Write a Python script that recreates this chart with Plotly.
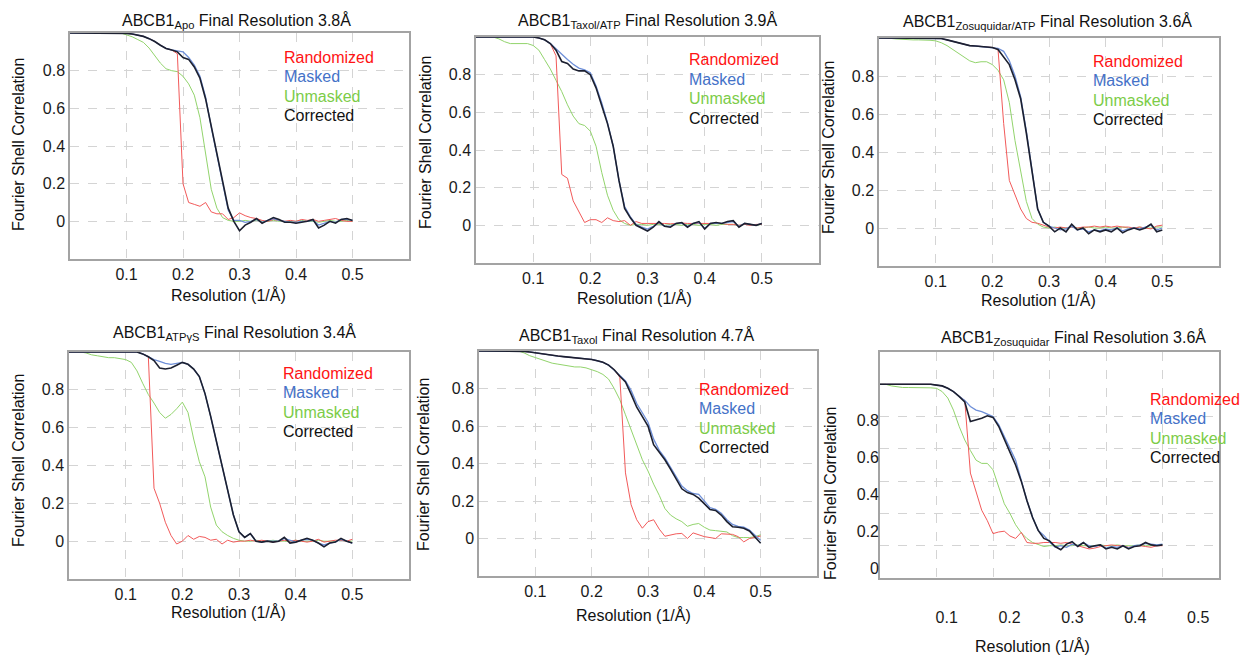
import plotly.graph_objects as go

# ---------------- data ----------------
resolution = [0.00, 0.01, 0.02, 0.03, 0.04, 0.05, 0.06, 0.07, 0.08, 0.09,
              0.10, 0.11, 0.12, 0.13, 0.14, 0.15, 0.16, 0.17, 0.18, 0.19,
              0.20, 0.21, 0.22, 0.23, 0.24, 0.25, 0.26, 0.27, 0.28, 0.29,
              0.30, 0.31, 0.32, 0.33, 0.34, 0.35, 0.36, 0.37, 0.38, 0.39,
              0.40, 0.41, 0.42, 0.43, 0.44, 0.45, 0.46, 0.47, 0.48, 0.49,
              0.50]

series_names = ["Randomized", "Masked", "Unmasked", "Corrected"]

panel_titles = [
    "ABCB1<sub>Apo</sub> Final Resolution 3.8Å",
    "ABCB1<sub>Taxol/ATP</sub> Final Resolution 3.9Å",
    "ABCB1<sub>Zosuquidar/ATP</sub> Final Resolution 3.6Å",
    "ABCB1<sub>ATPγS</sub> Final Resolution 3.4Å",
    "ABCB1<sub>Taxol</sub> Final Resolution 4.7Å",
    "ABCB1<sub>Zosuquidar</sub> Final Resolution 3.6Å",
]

x_tick_values = [0.1, 0.2, 0.3, 0.4, 0.5]
x_tick_labels = ["0.1", "0.2", "0.3", "0.4", "0.5"]
y_tick_values = [0, 0.2, 0.4, 0.6, 0.8]
y_tick_labels = ["0", "0.2", "0.4", "0.6", "0.8"]

# Panel 1: Apo
apo_randomized = [1, 1, 1, 1, 1, 1, 1, 1, 1, 1,
                  0.998, 0.995, 0.99, 0.982, 0.97, 0.955, 0.935, 0.918, 0.91, 0.89,
                  0.2, 0.1, 0.09, 0.08, 0.1, 0.05, 0.04, 0.04, 0.01, 0.02,
                  0.045, 0.03, 0.02, 0.015, 0.005, 0.0, 0.01, 0.005, 0.0, 0.005,
                  0.0, 0.01, 0.005, 0.01, 0.0, 0.005, 0.01, 0.015, 0.005, 0.0,
                  0.0]
apo_masked = [1, 1, 1, 1, 1, 1, 1, 1, 1, 1,
              0.998, 0.995, 0.99, 0.982, 0.97, 0.955, 0.935, 0.918, 0.91, 0.905,
              0.9, 0.87, 0.83, 0.77, 0.66, 0.5, 0.35, 0.2, 0.06, 0.005,
              0.005, -0.005, 0.0, 0.01, -0.005, 0.005, 0.015, 0.005, 0.0, -0.005,
              -0.005, 0.0, 0.0, 0.005, -0.02, -0.01, 0.0, -0.005, 0.01, 0.01,
              0.005]
apo_unmasked = [1, 1, 1, 1, 1, 1, 1, 1, 1, 1,
                0.99, 0.98, 0.965, 0.95, 0.92, 0.88, 0.84, 0.81, 0.8, 0.795,
                0.77, 0.73, 0.67, 0.55, 0.36, 0.17, 0.07, 0.02, 0.005, 0.0,
                0.0, 0.005, 0.0, 0.005, 0.0, 0.0, 0.005, 0.0, 0.0, 0.0,
                0.0, 0.005, 0.0, 0.0, -0.005, 0.0, 0.005, 0.0, 0.0, 0.005,
                0.0]
apo_corrected = [1, 1, 1, 1, 1, 1, 1, 1, 1, 1,
                 0.998, 0.995, 0.99, 0.982, 0.97, 0.955, 0.935, 0.918, 0.91, 0.9,
                 0.87, 0.86, 0.82, 0.76, 0.65, 0.5, 0.35, 0.2, 0.07, 0.0,
                 -0.05, -0.02, -0.005, 0.015, -0.01, 0.005, 0.02, 0.01, -0.005, -0.005,
                 -0.01, -0.005, 0.0, 0.01, -0.035, -0.02, 0.0, -0.01, 0.01, 0.015,
                 0.005]

# Panel 2: Taxol/ATP
taxatp_randomized = [1, 1, 1, 1, 1, 1, 1, 1, 1, 1,
                     1.0, 0.995, 0.985, 0.965, 0.9, 0.27, 0.25, 0.13, 0.07, 0.015,
                     0.03, 0.03, 0.015, 0.04, 0.025, 0.02, 0.025, 0.0, 0.02, 0.01,
                     0.01, 0.01, 0.012, 0.01, 0.008, 0.01, 0.012, 0.01, 0.01, 0.008,
                     0.01, 0.01, 0.008, 0.01, 0.005, 0.005, 0.0, 0.005, 0.0, 0.005,
                     0.005]
taxatp_masked = [1, 1, 1, 1, 1, 1, 1, 1, 1, 1,
                 1.0, 0.995, 0.985, 0.965, 0.935, 0.91, 0.88, 0.855, 0.835, 0.825,
                 0.81, 0.74, 0.65, 0.545, 0.42, 0.24, 0.1, 0.045, 0.005, -0.01,
                 -0.02, -0.005, 0.015, -0.005, -0.005, 0.01, 0.012, -0.005, 0.01, 0.015,
                 -0.015, 0.01, 0.012, 0.01, 0.015, 0.02, -0.005, 0.01, 0.005, 0.0,
                 0.01]
taxatp_unmasked = [1, 1, 1, 1, 0.99, 0.975, 0.965, 0.965, 0.965, 0.965,
                   0.955, 0.93, 0.88, 0.83, 0.77, 0.71, 0.64, 0.58, 0.54, 0.53,
                   0.5, 0.42, 0.28, 0.16, 0.08, 0.03, 0.01, 0.0, 0.005, 0.005,
                   0.0, 0.005, 0.005, 0.0, 0.005, 0.005, 0.0, 0.005, 0.005, 0.0,
                   0.005, 0.005, 0.0, 0.005, 0.005, 0.005, 0.0, 0.005, 0.005, 0.0,
                   0.005]
taxatp_corrected = [1, 1, 1, 1, 1, 1, 1, 1, 1, 1,
                    1.0, 0.995, 0.985, 0.965, 0.93, 0.87, 0.86, 0.83, 0.82, 0.82,
                    0.8, 0.73, 0.64, 0.54, 0.42, 0.24, 0.09, 0.04, 0.0, -0.015,
                    -0.03, -0.01, 0.02, -0.005, -0.01, 0.01, 0.015, -0.01, 0.01, 0.02,
                    -0.02, 0.01, 0.015, 0.01, 0.02, 0.025, -0.01, 0.01, 0.005, 0.0,
                    0.01]

# Panel 3: Zosuquidar/ATP
zosatp_randomized = [1, 1, 1, 1, 1, 1, 1, 1, 1, 1,
                     1.0, 0.997, 0.99, 0.982, 0.972, 0.965, 0.96, 0.958, 0.955, 0.953,
                     0.95, 0.94, 0.55, 0.25, 0.17, 0.1, 0.05, 0.03, 0.025, 0.015,
                     0.005, 0.0, 0.005, 0.0, 0.005, 0.0, 0.005, 0.005, 0.01, 0.005,
                     0.01, 0.005, 0.01, 0.005, 0.005, 0.0, 0.005, 0.0, -0.005, 0.01,
                     0.015]
zosatp_masked = [1, 1, 1, 1, 1, 1, 1, 1, 1, 1,
                 1.0, 0.997, 0.99, 0.982, 0.972, 0.965, 0.96, 0.958, 0.955, 0.953,
                 0.95, 0.945, 0.93, 0.88, 0.8, 0.69, 0.51, 0.3, 0.1, 0.03,
                 0.01, 0.0, -0.01, -0.005, 0.01, -0.01, -0.005, -0.02, -0.01, -0.015,
                 -0.005, -0.01, 0.0, -0.015, -0.005, 0.0, -0.005, 0.005, 0.015, -0.01,
                 0.0]
zosatp_unmasked = [1.0, 1.0, 0.998, 0.995, 0.993, 0.99, 0.99, 0.99, 0.99, 0.988,
                   0.985, 0.975, 0.96, 0.94, 0.92, 0.9, 0.88, 0.87, 0.875, 0.875,
                   0.86, 0.83, 0.78, 0.66, 0.46, 0.3, 0.14, 0.05, 0.02, 0.005,
                   0.0, 0.005, 0.0, 0.0, 0.005, 0.0, 0.0, 0.005, 0.0, 0.0,
                   0.005, 0.0, 0.0, 0.005, 0.0, 0.0, 0.005, 0.0, 0.0, 0.005,
                   0.005]
zosatp_corrected = [1, 1, 1, 1, 1, 1, 1, 1, 1, 1,
                    1.0, 0.997, 0.99, 0.982, 0.972, 0.965, 0.96, 0.958, 0.955, 0.953,
                    0.95, 0.94, 0.9, 0.86, 0.78, 0.68, 0.5, 0.3, 0.1, 0.03,
                    0.01, -0.02, 0.0, -0.02, 0.02, -0.01, 0.0, -0.03, -0.01, -0.02,
                    -0.01, -0.02, 0.0, -0.025, -0.01, 0.0, -0.01, 0.0, 0.02, -0.02,
                    -0.01]

# Panel 4: ATPgammaS
atpgs_randomized = [1, 1, 1, 1, 1, 1, 1, 1, 1, 1,
                    1, 1, 1.0, 0.99, 0.975, 0.28, 0.2, 0.1, 0.03, -0.015,
                    0.0, 0.03, 0.01, 0.025, 0.02, 0.005, 0.01, -0.015, 0.005, -0.005,
                    0.0, 0.0, 0.005, 0.0, 0.005, 0.0, -0.005, 0.0, 0.005, 0.0,
                    0.005, 0.0, -0.005, 0.0, 0.01, -0.005, 0.0, 0.005, 0.005, 0.0,
                    0.01]
atpgs_masked = [1, 1, 1, 1, 1, 1, 1, 1, 1, 1,
                1, 1, 1.0, 0.99, 0.975, 0.96, 0.95, 0.94, 0.935, 0.94,
                0.945, 0.935, 0.91, 0.87, 0.78, 0.66, 0.53, 0.41, 0.28, 0.14,
                0.05, 0.02, 0.04, 0.0, -0.005, 0.0, 0.0, 0.0, 0.015, 0.005,
                -0.005, 0.005, 0.01, 0.005, -0.01, -0.02, -0.01, -0.005, 0.01, 0.0,
                -0.01]
atpgs_unmasked = [1.0, 1.0, 1.0, 0.995, 0.985, 0.98, 0.975, 0.97, 0.97, 0.965,
                  0.96, 0.945, 0.9, 0.835, 0.775, 0.73, 0.68, 0.65, 0.67, 0.7,
                  0.735, 0.68, 0.54, 0.42, 0.34, 0.18, 0.085, 0.05, 0.03, 0.015,
                  0.005, 0.0, 0.0, 0.005, 0.0, 0.0, 0.005, 0.0, 0.0, 0.0,
                  0.005, 0.0, 0.0, 0.0, 0.005, 0.0, 0.0, 0.0, 0.005, 0.0,
                  0.0]
atpgs_corrected = [1, 1, 1, 1, 1, 1, 1, 1, 1, 1,
                   1, 1, 1.0, 0.99, 0.975, 0.955, 0.915, 0.91, 0.915, 0.93,
                   0.945, 0.935, 0.91, 0.87, 0.78, 0.66, 0.53, 0.41, 0.28, 0.14,
                   0.05, 0.02, 0.04, 0.0, -0.005, 0.0, -0.005, 0.0, 0.02, -0.01,
                   -0.005, 0.005, 0.015, 0.005, -0.01, -0.03, -0.01, -0.005, 0.015, 0.0,
                   -0.01]

# Panel 5: Taxol
taxol_randomized = [1, 1, 1, 1, 1, 1, 1, 1, 0.998, 0.995,
                    0.99, 0.985, 0.98, 0.977, 0.973, 0.97, 0.967, 0.963, 0.96, 0.958,
                    0.955, 0.948, 0.94, 0.925, 0.9, 0.86, 0.35, 0.18, 0.1, 0.055,
                    0.09, 0.1, 0.05, 0.012, 0.02, 0.025, 0.027, 0.0, 0.03, 0.02,
                    0.01, 0.005, 0.0, 0.025, 0.025, 0.022, 0.01, -0.018, 0.0, 0.008,
                    0.013]
taxol_masked = [1, 1, 1, 1, 1, 1, 1, 1, 0.998, 0.995,
                0.99, 0.985, 0.98, 0.977, 0.973, 0.97, 0.967, 0.963, 0.96, 0.958,
                0.955, 0.948, 0.94, 0.925, 0.9, 0.87, 0.84, 0.79, 0.72, 0.67,
                0.62, 0.53, 0.47, 0.43, 0.38, 0.33, 0.28, 0.255, 0.24, 0.235,
                0.2, 0.165, 0.155, 0.135, 0.1, 0.075, 0.065, 0.06, 0.045, 0.02,
                -0.01]
taxol_unmasked = [1, 1, 1, 1, 1, 1, 1, 1, 0.99, 0.975,
                  0.965, 0.955, 0.945, 0.935, 0.93, 0.925, 0.92, 0.915, 0.915, 0.91,
                  0.9, 0.89, 0.875, 0.85, 0.8, 0.74, 0.66, 0.58, 0.5, 0.42,
                  0.36, 0.29, 0.23, 0.16, 0.125, 0.105, 0.09, 0.065, 0.075, 0.08,
                  0.06, 0.045, 0.042, 0.04, 0.035, 0.015, 0.005, 0.005, 0.005, 0.01,
                  0.02]
taxol_corrected = [1, 1, 1, 1, 1, 1, 1, 1, 0.998, 0.995,
                   0.99, 0.985, 0.98, 0.977, 0.973, 0.97, 0.967, 0.963, 0.96, 0.958,
                   0.955, 0.948, 0.94, 0.925, 0.9, 0.865, 0.835, 0.77, 0.7, 0.65,
                   0.6, 0.5, 0.46, 0.42, 0.37, 0.32, 0.265, 0.245, 0.235, 0.215,
                   0.185, 0.155, 0.15, 0.125, 0.09, 0.063, 0.06, 0.055, 0.04, 0.01,
                   -0.025]

# Panel 6: Zosuquidar
zos_randomized = [1, 1, 1, 1, 1, 1, 1, 1, 1, 1,
                  0.995, 0.99, 0.975, 0.955, 0.925, 0.9, 0.45, 0.33, 0.22, 0.155,
                  0.075, 0.085, 0.09, 0.06, 0.045, 0.083, 0.02, 0.015, 0.015, 0.02,
                  0.02, 0.02, 0.015, 0.02, 0.01, 0.0, -0.01, -0.02, -0.015, -0.005,
                  0.0, 0.005, 0.0, 0.0, -0.01, -0.005, 0.0, -0.005, -0.01, 0.0,
                  0.0]
zos_masked = [1, 1, 1, 1, 1, 1, 1, 1, 1, 1,
              0.995, 0.99, 0.975, 0.955, 0.925, 0.9, 0.862, 0.84, 0.83, 0.815,
              0.8, 0.75, 0.676, 0.6, 0.53, 0.406, 0.28, 0.178, 0.095, 0.064,
              0.023, -0.008, 0.0, -0.01, 0.01, 0.0, 0.02, 0.0, -0.005, 0.005,
              -0.015, -0.005, -0.01, 0.0, -0.015, 0.0, 0.005, 0.015, 0.01, 0.005,
              0.01]
zos_unmasked = [1.0, 1.0, 0.99, 0.985, 0.98, 0.98, 0.98, 0.98, 0.98, 0.978,
                0.975, 0.955, 0.915, 0.84, 0.74, 0.655, 0.59, 0.53, 0.51, 0.51,
                0.47, 0.365, 0.26, 0.2, 0.13, 0.08, 0.045, 0.02, 0.008, -0.005,
                0.0, 0.0, 0.005, 0.0, 0.0, 0.005, 0.0, 0.0, 0.0, 0.005,
                0.0, 0.0, 0.005, 0.0, 0.0, 0.0, 0.005, 0.0, 0.0, 0.005,
                0.005]
zos_corrected = [1, 1, 1, 1, 1, 1, 1, 1, 1, 1,
                 0.995, 0.99, 0.975, 0.955, 0.925, 0.89, 0.77, 0.78, 0.79, 0.805,
                 0.795, 0.74, 0.665, 0.58, 0.5, 0.4, 0.28, 0.175, 0.095, 0.045,
                 0.03, -0.005, -0.025, 0.01, 0.025, -0.005, 0.02, -0.01, 0.0, 0.005,
                 -0.02, -0.01, -0.02, 0.0, -0.02, -0.005, 0.0, 0.02, 0.005, 0.0,
                 0.005]

panel_series = [
    (apo_randomized, apo_masked, apo_unmasked, apo_corrected),
    (taxatp_randomized, taxatp_masked, taxatp_unmasked, taxatp_corrected),
    (zosatp_randomized, zosatp_masked, zosatp_unmasked, zosatp_corrected),
    (atpgs_randomized, atpgs_masked, atpgs_unmasked, atpgs_corrected),
    (taxol_randomized, taxol_masked, taxol_unmasked, taxol_corrected),
    (zos_randomized, zos_masked, zos_unmasked, zos_corrected),
]

# ---------------- styling / layout ----------------
W, H = 1242, 656
FONT = "Liberation Sans, Arial, Helvetica, sans-serif"
line_colors = {"Randomized": "#f25a5a", "Masked": "#6e8fd8",
               "Unmasked": "#92d46c", "Corrected": "#1c2030"}
line_widths = {"Randomized": 1.0, "Masked": 1.3, "Unmasked": 1.0, "Corrected": 1.6}
text_colors = {"Randomized": "#ff1414", "Masked": "#4472c8",
               "Unmasked": "#7ccc48", "Corrected": "#111111"}
draw_order = ["Unmasked", "Randomized", "Masked", "Corrected"]

# plot boxes in pixels: (left, right, top, bottom)
boxes = [(70, 409, 33, 259), (476, 819, 37, 263), (879, 1219, 38, 266),
         (69, 409, 352, 579), (479, 817, 351, 576), (880, 1219, 352, 578)]
y_ranges = [[-0.2, 1.0]] * 5 + [[-0.2, 1.2]]
title_pos = [(237, 21), (647, 21), (1047, 22), (234, 333), (636, 336), (1073, 338)]
ytitle_pos = [(18, 145), (425, 143), (828, 148), (18, 461), (423, 465), (830, 494)]
xtitle_pos = [(229, 295), (634, 298), (1038, 300), (228, 612), (633, 615), (1032, 646)]
legend_pos = [(282, 57), (687, 60), (1091, 61), (281, 373), (697, 389), (1148, 399)]
legend_step = 19.5


def px(xp):
    return xp / W


def py(yp):
    return 1 - yp / H


fig = go.Figure()
axis_font = dict(family=FONT, size=16, color="#1a1a1a")
annotations = []

for i, series in enumerate(panel_series):
    n = i + 1
    xa = "x" if n == 1 else f"x{n}"
    ya = "y" if n == 1 else f"y{n}"
    data = dict(zip(series_names, series))
    for name in draw_order:
        fig.add_trace(go.Scatter(
            x=resolution, y=data[name], mode="lines", name=name,
            line=dict(color=line_colors[name], width=line_widths[name]),
            xaxis=xa, yaxis=ya, showlegend=False))

    l, r, t, b = boxes[i]
    show_labels = n != 6
    xaxis = dict(domain=[px(l), px(r)], range=[0, 0.6], anchor=ya,
                 tickvals=x_tick_values, ticktext=x_tick_labels,
                 showticklabels=show_labels,
                 showgrid=True, gridcolor="#d4d4d4", griddash="dash", gridwidth=1,
                 showline=True, linecolor="#a3a3a3", linewidth=1.5, mirror=True,
                 zeroline=False, ticks="", tickfont=axis_font)
    yaxis = dict(domain=[py(b), py(t)], range=y_ranges[i], anchor=xa,
                 tickvals=y_tick_values, ticktext=y_tick_labels,
                 showticklabels=show_labels,
                 showgrid=True, gridcolor="#d4d4d4", griddash="dash", gridwidth=1,
                 showline=True, linecolor="#a3a3a3", linewidth=1.5, mirror=True,
                 zeroline=False, ticks="", tickfont=axis_font)
    fig.layout["xaxis" if n == 1 else f"xaxis{n}"] = xaxis
    fig.layout["yaxis" if n == 1 else f"yaxis{n}"] = yaxis

    tx, ty = title_pos[i]
    annotations.append(dict(text=panel_titles[i], x=px(tx), y=py(ty), xref="paper",
                            yref="paper", showarrow=False, xanchor="center",
                            yanchor="middle", font=dict(family=FONT, size=16, color="#111")))
    ax_, ay_ = ytitle_pos[i]
    annotations.append(dict(text="Fourier Shell Correlation", x=px(ax_), y=py(ay_),
                            xref="paper", yref="paper", showarrow=False, textangle=-90,
                            xanchor="center", yanchor="middle",
                            font=dict(family=FONT, size=16, color="#111")))
    bx, by = xtitle_pos[i]
    annotations.append(dict(text="Resolution (1/Å)", x=px(bx), y=py(by),
                            xref="paper", yref="paper", showarrow=False,
                            xanchor="center", yanchor="middle",
                            font=dict(family=FONT, size=16, color="#111")))
    lx, ly = legend_pos[i]
    for k, name in enumerate(series_names):
        annotations.append(dict(text=name, x=px(lx), y=py(ly + k * legend_step),
                                xref="paper", yref="paper", showarrow=False,
                                xanchor="left", yanchor="middle",
                                font=dict(family=FONT, size=16, color=text_colors[name])))

# Panel 6 carries its tick labels on overlay axes (offset as in the source figure)
l, r, t, b = boxes[5]
fig.add_trace(go.Scatter(x=[None], y=[None], xaxis="x7", yaxis="y7", showlegend=False,
                         hoverinfo="skip"))
fig.layout["xaxis7"] = dict(domain=[px(l), px(r)], range=[-0.006, 0.533],
                            overlaying="x6", anchor="y7", showgrid=False,
                            showline=False, zeroline=False, ticks="",
                            tickvals=x_tick_values, ticktext=x_tick_labels,
                            tickfont=axis_font, ticklabelstandoff=28)
fig.layout["yaxis7"] = dict(domain=[py(b), py(t)], range=[-0.054, 1.17],
                            overlaying="y6", anchor="x7", showgrid=False,
                            showline=False, zeroline=False, ticks="",
                            tickvals=y_tick_values, ticktext=y_tick_labels,
                            tickfont=axis_font)

fig.update_layout(width=W, height=H, margin=dict(l=0, r=0, t=0, b=0),
                  paper_bgcolor="white", plot_bgcolor="white",
                  showlegend=False, annotations=annotations,
                  font=dict(family=FONT, color="#111"))

fig.write_html("out.html", config={"displayModeBar": False},
               post_script="document.body.style.margin='0';"
                           "document.body.style.overflow='hidden';")
